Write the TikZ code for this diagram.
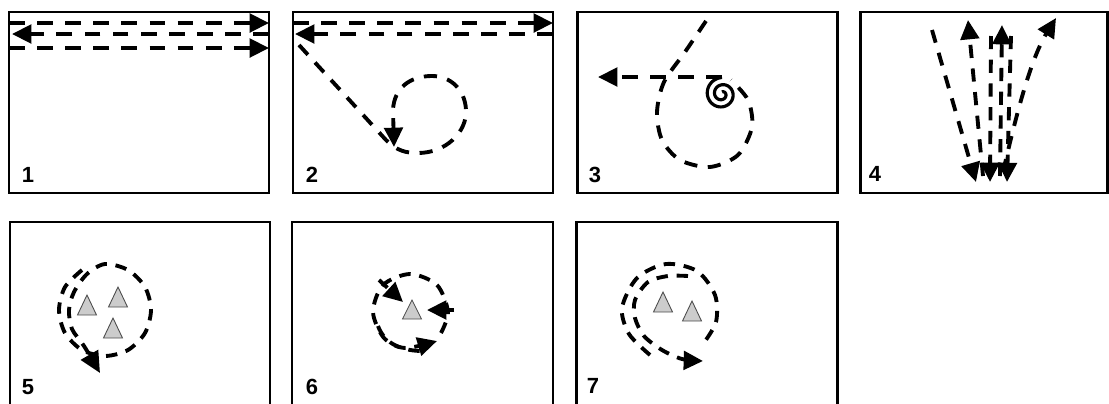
\documentclass[tikz,border=0pt]{standalone}
\usepackage{fontspec}
\setsansfont{Liberation Sans}
\usetikzlibrary{arrows.meta}

\tikzset{
  frame/.style={line width=1.7pt},
  longdash/.style={line width=2.2pt, dash pattern=on 9pt off 7pt},
  middash/.style={line width=2.2pt, dash pattern=on 7.5pt off 6pt},
  shortdash/.style={line width=2.2pt, dash pattern=on 6.5pt off 5pt},
  arrowed/.style={-{Triangle[length=11pt,width=10.5pt]}},
  player/.style={fill=gray!40, draw=gray!60!black, line width=0.5pt},
  num/.style={font=\sffamily\bfseries\fontsize{12.5}{14}\selectfont, inner sep=0pt}
}

\begin{document}
\begin{tikzpicture}[x=0.02cm, y=-0.02cm]
  \useasboundingbox (0,0) rectangle (1109,403);
  % frames, top row closed, bottom row runs off the page
  \foreach \xl/\xr in {9/269, 293/553, 577/837, 860/1107}
    \draw[frame] (\xl,12) rectangle (\xr,193);
  \foreach \xl/\xr in {10/270, 292/553, 576/837}
    \draw[frame] (\xl,410) -- (\xl,222) -- (\xr,222) -- (\xr,410);
  % panel numbers
  \foreach \n/\x/\y in {1/28/175, 2/312/175, 3/595/175, 4/875/174,
                        5/28/387, 6/312/387, 7/593/386}
    \node[num] (n\n) at (\x,\y) {\n};

  % panel 1: three passes along the top edge
  \draw[longdash, arrowed] (9,23) -- (269,23);
  \draw[longdash, arrowed] (269,34) -- (12,34);
  \draw[longdash, arrowed] (9,48) -- (269,48);

  % panel 2: two passes, then down and round a loop
  \draw[longdash, arrowed] (293,23) -- (553,23);
  \draw[longdash, arrowed] (553,34) -- (295,34);
  \draw[middash, arrowed] (299,45) -- (386,140)
        .. controls (397,151) and (406,153) .. (418,153)
        .. controls (446,153) and (467,132) .. (466,110)
        .. controls (465,89) and (450,76) .. (432,76)
        .. controls (410,76) and (394,88) .. (393,110) -- (394,147);

  % panel 3: big loop into the spiral, then off to the left
  \draw[middash] plot[smooth] coordinates {(706,21) (685,52) (664,82) (657,112)
        (662,140) (680,160) (710,167) (738,155) (752,127) (748,100) (731,80)};
  \draw[line width=1.8pt] plot[domain=0:720, samples=120, smooth]
        ({722+(16.5-14.5*\x/720)*cos(-90-\x)}, {94+(16.5-14.5*\x/720)*sin(-90-\x)});
  \draw[longdash, arrowed] (722,77) -- (598,77);

  % panel 4: fan of runs up and down
  \draw[middash, arrowed] (932,30) -- (976,182);
  \draw[middash, arrowed] (991,36) -- (990,182);
  \draw[middash, arrowed] (1011,36) -- (1007,182);
  \draw[middash, arrowed] (983,176) -- (968,20);
  \draw[middash, arrowed] (1000,176) -- (1002,25);
  \draw[middash, arrowed] (1003,172) .. controls (1015,120) and (1030,60) .. (1056,18);

  % panel 5: one and a half turns round three cones
  \foreach \x/\y in {87/305, 118/297, 113/328}
    \draw[player] (\x-9.5,\y+10) -- (\x,\y-10) -- (\x+9.5,\y+10) -- cycle;
  \draw[shortdash, -{Triangle[length=12pt,width=11pt]}] plot[smooth] coordinates {
        (82,270) (65,287) (59,310) (65,333) (82,350) (105,356) (128,350)
        (145,333) (151,310) (145,287) (128,270) (105,264) (87,274) (74,292)
        (69,310) (72,329) (84,346) (100,373)};

  % panel 6: round one cone, three cuts
  \draw[player] (412-9.5,319) -- (412,300) -- (412+9.5,319) -- cycle;
  \draw[shortdash, arrowed] plot[smooth] coordinates {(441,333) (448,312) (437,285)
        (410,274) (383,285) (373,312) (384,338) (405,348) (437,341)};
  \draw[shortdash] (378,326) .. controls (384,342) and (398,350) .. (420,351);
  \draw[shortdash, arrowed] (379,280) -- (403,302);
  \draw[shortdash, arrowed] (454,310) -- (427,310);

  % panel 7: round two cones, out to the right
  \foreach \x/\y in {663/302, 692/311}
    \draw[player] (\x-9.5,\y+10) -- (\x,\y-10) -- (\x+9.5,\y+10) -- cycle;
  \draw[shortdash] plot[smooth] coordinates {(650,355) (629,334) (622,308) (637,278)
        (666,264) (697,271) (715,295) (716,322) (703,344)};
  \draw[shortdash, arrowed] plot[smooth] coordinates {(688,276) (668,276) (648,282)
        (635,300) (635,318) (644,336) (662,350) (682,359) (703,361)};
\end{tikzpicture}
\end{document}
